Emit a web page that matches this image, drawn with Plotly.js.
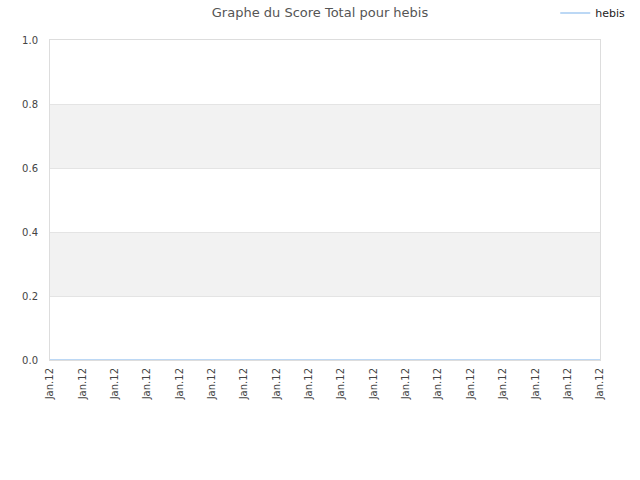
<!DOCTYPE html>
<html>
<head>
<meta charset="utf-8">
<script src="https://cdn.plot.ly/plotly-3.0.1.min.js"></script>
<style>html,body{margin:0;padding:0;background:#fff;}#chart{width:640px;height:480px;}</style>
</head>
<body>
<div id="chart"></div>
<script>
var xIndex = [0,1,2,3,4,5,6,7,8,9,10,11,12,13,14,15,16,17];
var tickLabels = ["Jan.12","Jan.12","Jan.12","Jan.12","Jan.12","Jan.12","Jan.12","Jan.12","Jan.12","Jan.12","Jan.12","Jan.12","Jan.12","Jan.12","Jan.12","Jan.12","Jan.12","Jan.12"];
var scores = [0,0,0,0,0,0,0,0,0,0,0,0,0,0,0,0,0,0];
var seriesName = "hebis";
var bands = [[0.2,0.4],[0.6,0.8]];

var shapes = bands.map(function(b){
  return {type:'rect', xref:'paper', yref:'y', x0:0, x1:1, y0:b[0], y1:b[1],
          fillcolor:'#f2f2f2', line:{width:0}, layer:'below'};
});

Plotly.newPlot('chart', [{
  x: xIndex, y: scores, type:'scatter', mode:'lines', name: seriesName,
  line:{color:'#a6cbf2', width:1.5}
}], {
  width:640, height:480,
  margin:{l:50, r:40, t:40, b:120, autoexpand:false},
  paper_bgcolor:'#fff', plot_bgcolor:'#fff',
  font:{family:'DejaVu Sans, sans-serif', size:10, color:'#444'},
  title:{text:'Graphe du Score Total pour hebis', font:{size:13, color:'#555'}, x:0.5, xanchor:'center', y:0.975, yanchor:'middle'},
  showlegend:true,
  legend:{x:1.055, xanchor:'right', y:1.084, yanchor:'middle', font:{size:11, color:'#222'}, bgcolor:'rgba(0,0,0,0)', itemwidth:30},
  xaxis:{range:[0,17], tickmode:'array', tickvals:xIndex, ticktext:tickLabels, tickangle:-90,
         showgrid:false, zeroline:false, showline:true, linecolor:'#ddd', mirror:true,
         ticks:'', ticklabelstandoff:3, tickfont:{size:10, color:'#444'}},
  yaxis:{range:[0,1], tickvals:[0,0.2,0.4,0.6,0.8,1], ticktext:['0.0','0.2','0.4','0.6','0.8','1.0'],
         showgrid:true, gridcolor:'#e4e4e4', zeroline:false, showline:true, linecolor:'#ddd', mirror:true,
         ticks:'', ticklabelstandoff:9, tickfont:{size:10, color:'#444'}},
  shapes: shapes
}, {displayModeBar:false});
</script>
</body>
</html>
